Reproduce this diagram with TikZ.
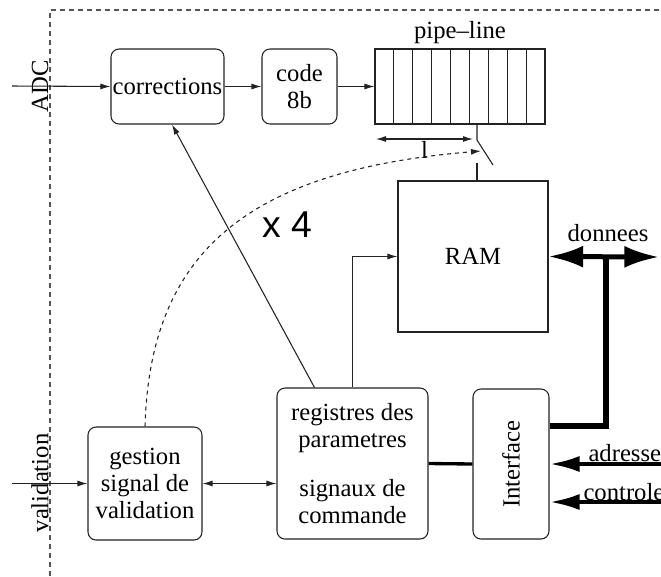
\documentclass[tikz,border=0pt]{standalone}
\usepackage{fontspec}
\setmainfont{Liberation Serif}
\newfontfamily\labelsans{Liberation Sans}
\usetikzlibrary{arrows.meta,positioning,calc}
\definecolor{framegray}{HTML}{555555}
\definecolor{linegray}{HTML}{222222}

\begin{document}
\begin{tikzpicture}[
  x=0.75pt, y=-0.75pt,
  line width=0.8pt,
  every node/.style={font=\fontsize{18.5}{20.3}\selectfont},
  blok/.style={rectangle, draw=linegray, rounded corners=6pt, align=center, inner sep=0pt},
  plainbox/.style={rectangle, draw=linegray, align=center, inner sep=0pt},
  flow/.style={-{Latex[length=7.5pt, width=4.5pt]}, draw=linegray},
  dflow/.style={{Latex[length=7.5pt, width=4.5pt]}-{Latex[length=7.5pt, width=4.5pt]}, draw=linegray},
  bus/.style={draw=black, line width=5pt},
  busin/.style={-{Latex[length=22.5pt, width=12pt]}, draw=black, line width=3pt},
  frame/.style={draw=framegray, dash pattern=on 3.75pt off 3pt, line width=0.8pt}
]
  \clip (0,0) rectangle (661,576);

  % cadre
  \draw[frame] (50,576) -- (50,10) -- (661,10);

  % blocs
  \node[blok, minimum width=84.75pt, minimum height=56.25pt] (corr) at (167.5,86.5) {corrections};
  \node[blok, minimum width=56.25pt, minimum height=56.25pt] (code) at (299.5,86.5) {code\\8b};
  \node[plainbox, minimum width=127.5pt, minimum height=56.25pt] (pipe) at (460,86.5) {};
  \foreach \i in {1,...,8}
    \draw[linegray] ($(pipe.north west)!\i/9!(pipe.north east)$) -- ($(pipe.south west)!\i/9!(pipe.south east)$);
  \node[above=0pt of pipe] (pipelab) {pipe--line};
  \node[plainbox, minimum width=112.5pt, minimum height=113.25pt] (ram) at (473,256.5) {RAM};
  \node[blok, minimum width=85.5pt, minimum height=84.75pt] (gest) at (145,483.5) {gestion\\signal de\\validation};
  \node[blok, minimum width=113.25pt, minimum height=113.25pt] (regs) at (352.5,463.5)
    {registres des\\parametres\\[16pt]signaux de\\commande};
  \node[blok, minimum width=57pt, minimum height=112.5pt] (intf) at (511,464) {\rotatebox{90}{Interface}};

  % entrees
  \node[rotate=90] (adc) at (40,86) {ADC};
  \node[rotate=90] (valid) at (40,483) {validation};
  \coordinate (adcin) at (12,86);
  \coordinate (valin) at (12,483.5);
  \draw[flow] (adcin) -- (corr.west);
  \draw[flow] (valin) -- (gest.west);

  \draw[flow] (corr.east) -- (code.west);
  \draw[flow] (code.east) -- (pipe.west);

  % prise du pipe-line
  \coordinate (tapa) at (477,124);
  \coordinate (tapb) at (477,140);
  \coordinate (tapc) at (493,165);
  \coordinate (tapd) at (477,163);
  \draw[linegray] (tapa) -- (tapb) -- (tapc);
  \draw[linegray] (tapd) -- (tapd |- ram.north);
  \coordinate (la) at (376,139);
  \coordinate (lb) at (473,139);
  \draw[dflow] (la) -- node[below=-2pt] (llab) {l} (lb);

  % validation vers la prise
  \coordinate (swtip) at (481,151);
  \draw[flow, dashed] (gest.north) .. controls (150,250) and (250,170) .. (swtip);
  \node[font=\labelsans\fontsize{28}{30}\selectfont] (x4) at (287,225) {x 4};

  % registres
  \coordinate (regcor) at ([xshift=28.5pt]regs.north west);
  \draw[flow] (regcor) -- ([xshift=3.4pt]corr.south);
  \draw[flow] (regs.north) |- (ram.west);
  \draw[dflow] (gest.east) -- (gest.east -| regs.west);
  \draw[draw=black, line width=2.5pt] (regs.east) -- (intf.west);

  % bus donnees
  \coordinate (bustop) at (606,257);
  \coordinate (dataout) at (659,257);
  \draw[bus] ([yshift=28.5pt]intf.east) -| ([yshift=-1pt]bustop);
  \draw[{Latex[length=26pt, width=16.5pt]}-{Latex[length=26pt, width=16.5pt]}, line width=3.75pt] (ram.east) -- (dataout);
  \node (donlab) at (608,233) {donnees};

  % adresse et controle
  \coordinate (adrin) at (661,464);
  \coordinate (ctlin) at (661,502);
  \draw[busin] (adrin) -- (intf.east);
  \draw[busin] (ctlin) -- (ctlin -| intf.east);
  \node[anchor=west, inner sep=0pt] (adrlab) at (588,453) {adresse};
  \node[anchor=west, inner sep=0pt] (ctllab) at (583,492) {controle};
\end{tikzpicture}
\end{document}
